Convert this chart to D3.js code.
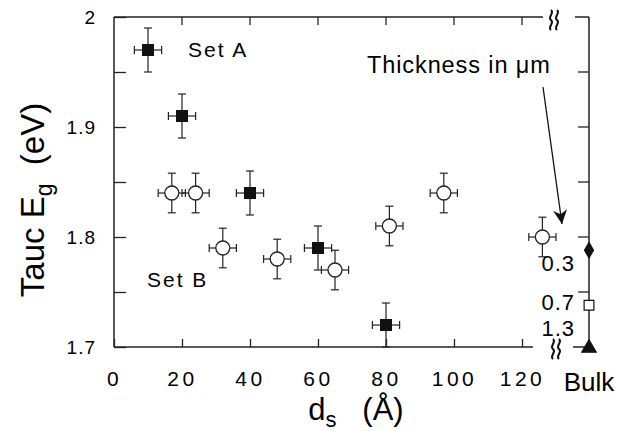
<!DOCTYPE html>
<html>
<head>
<meta charset="utf-8">
<script src="https://cdn.jsdelivr.net/npm/d3@7"></script>
<style>
  body { margin: 0; background: #fff; }
  text { font-family: "Liberation Sans", Arial, sans-serif; fill: #000; }
</style>
</head>
<body>
<svg id="chart" width="617" height="431"></svg>
<script>
// Set A (filled squares)
var setA_ds = [10, 20, 40, 60, 80];
var setA_eg = [1.97, 1.91, 1.84, 1.79, 1.72];
var setA_egErr = 0.02;
// Set B (open circles)
var setB_ds = [17, 24, 32, 48, 65, 81, 97, 126];
var setB_eg = [1.84, 1.84, 1.79, 1.78, 1.77, 1.81, 1.84, 1.80];
var setB_egErr = 0.018;
var dsErr = 4;
// bulk samples
var bulkThick = ["0.3", "0.7", "1.3"];
var bulkEg = [1.788, 1.738, 1.70];
var bulkShape = ["diamond", "square", "triangle"];
var bulkLabelEg = [1.776, 1.741, 1.717];

var xTicks = [0, 20, 40, 60, 80, 100, 120];
var yTicks = [1.7, 1.75, 1.8, 1.85, 1.9, 1.95, 2.0];

var svg = d3.select("#chart");
var x = d3.scaleLinear().domain([0, 120]).range([114, 522]);
var y = d3.scaleLinear().domain([1.7, 2.0]).range([347, 17]);
var xBulk = 589;

// left axis
var yAxis = d3.axisLeft(y).tickValues(yTicks).tickSizeInner(-12).tickSizeOuter(0).tickPadding(18)
  .tickFormat(function(d) {
    var r = Math.round(d * 100);
    if (r % 10 != 0) return "";
    return r == 200 ? "2" : d.toFixed(1);
  });
var gy = svg.append("g").attr("transform", "translate(114,0)").call(yAxis);
gy.select(".domain").remove();
gy.selectAll("text").style("font-size", "19px").style("letter-spacing", "1px")
  .style("font-family", "Liberation Sans, Arial, sans-serif");
gy.selectAll("line").attr("stroke", "#222").attr("stroke-width", 1.3);

// bottom axis
var xAxis = d3.axisBottom(x).tickValues(xTicks).tickSizeInner(-8).tickSizeOuter(0).tickPadding(24);
var gx = svg.append("g").attr("transform", "translate(0,347)").call(xAxis);
gx.select(".domain").remove();
gx.selectAll("text").style("font-size", "21px").style("letter-spacing", "3.5px")
  .style("font-family", "Liberation Sans, Arial, sans-serif");
gx.selectAll("line").attr("stroke", "#222").attr("stroke-width", 1.3);

// top ticks
svg.append("g").selectAll("line").data(xTicks.slice(1)).enter().append("line")
  .attr("x1", x).attr("x2", x).attr("y1", 17).attr("y2", 25)
  .attr("stroke", "#222").attr("stroke-width", 1.3);
// right ticks
svg.append("g").selectAll("line").data(yTicks.slice(1, -1)).enter().append("line")
  .attr("x1", xBulk).attr("x2", xBulk - 11).attr("y1", y).attr("y2", y)
  .attr("stroke", "#222").attr("stroke-width", 1.3);

// frame with breaks
var frame = svg.append("g").attr("stroke", "#222").attr("stroke-width", 1.5).attr("fill", "none");
frame.append("line").attr("x1", 114).attr("x2", 114).attr("y1", 17).attr("y2", 347);
frame.append("line").attr("x1", 114).attr("x2", 543).attr("y1", 17).attr("y2", 17);
frame.append("line").attr("x1", 575).attr("x2", xBulk).attr("y1", 17).attr("y2", 17);
frame.append("line").attr("x1", 114).attr("x2", 533).attr("y1", 347).attr("y2", 347);
frame.append("line").attr("x1", 573).attr("x2", xBulk).attr("y1", 347).attr("y2", 347);
frame.append("line").attr("x1", xBulk).attr("x2", xBulk).attr("y1", 17).attr("y2", 347);

function squiggle(cx, cy) {
  return "M" + (cx - 1) + "," + (cy - 10) + " c4,3 -4,7 0,10 c4,3 -4,7 0,10";
}
[[552, 20], [558, 20], [554, 349], [560, 349]].forEach(function(p) {
  svg.append("path").attr("d", squiggle(p[0], p[1])).attr("stroke", "#111")
    .attr("stroke-width", 2).attr("fill", "none");
});

// error bars
function errorBars(ds, eg, egErr) {
  var g = svg.append("g").attr("stroke", "#222").attr("stroke-width", 1.2);
  ds.forEach(function(d, i) {
    var cx = x(d), cy = y(eg[i]);
    var y0 = y(eg[i] - egErr), y1 = y(eg[i] + egErr);
    var x0 = x(d - dsErr), x1 = x(d + dsErr);
    g.append("line").attr("x1", cx).attr("x2", cx).attr("y1", y0).attr("y2", y1);
    g.append("line").attr("x1", cx - 4).attr("x2", cx + 4).attr("y1", y0).attr("y2", y0);
    g.append("line").attr("x1", cx - 4).attr("x2", cx + 4).attr("y1", y1).attr("y2", y1);
    g.append("line").attr("x1", x0).attr("x2", x1).attr("y1", cy).attr("y2", cy);
    g.append("line").attr("x1", x0).attr("x2", x0).attr("y1", cy - 4).attr("y2", cy + 4);
    g.append("line").attr("x1", x1).attr("x2", x1).attr("y1", cy - 4).attr("y2", cy + 4);
  });
}
errorBars(setA_ds, setA_eg, setA_egErr);
errorBars(setB_ds, setB_eg, setB_egErr);

svg.append("g").selectAll("rect").data(setA_ds).enter().append("rect")
  .attr("x", function(d) { return x(d) - 6; })
  .attr("y", function(d, i) { return y(setA_eg[i]) - 6; })
  .attr("width", 12).attr("height", 12).attr("fill", "#111");

svg.append("g").selectAll("circle").data(setB_ds).enter().append("circle")
  .attr("cx", x).attr("cy", function(d, i) { return y(setB_eg[i]); })
  .attr("r", 7).attr("fill", "#fff").attr("stroke", "#222").attr("stroke-width", 1.3);

// bulk markers
var sym = { diamond: d3.symbolDiamond, square: d3.symbolSquare, triangle: d3.symbolTriangle };
var symSize = { diamond: 70, square: 95, triangle: 90 };
svg.append("g").selectAll("path").data(bulkShape).enter().append("path")
  .attr("d", function(s) { return d3.symbol().type(sym[s]).size(symSize[s])(); })
  .attr("transform", function(s, i) { return "translate(" + xBulk + "," + (y(bulkEg[i]) + (s == "triangle" ? 1 : 0)) + ")"; })
  .attr("fill", function(s) { return s == "square" ? "#fff" : "#111"; })
  .attr("stroke", "#111").attr("stroke-width", 1.2);

svg.append("g").selectAll("text").data(bulkThick).enter().append("text")
  .attr("x", 575).attr("y", function(d, i) { return y(bulkLabelEg[i]); })
  .attr("dy", "0.36em").attr("text-anchor", "end").style("font-size", "22px")
  .style("letter-spacing", "1px").text(function(d) { return d; });

svg.append("text").attr("x", 589).attr("y", 382).attr("dy", "0.36em").attr("text-anchor", "middle")
  .style("font-size", "26px").text("Bulk");

// annotations
svg.append("text").attr("x", 188).attr("y", 57).style("font-size", "21px").style("letter-spacing", "2px").text("Set A");
svg.append("text").attr("x", 147).attr("y", 287).style("font-size", "21px").style("letter-spacing", "2px").text("Set B");
svg.append("text").attr("x", 367).attr("y", 73).style("font-size", "23.5px").style("letter-spacing", "0.9px")
  .text("Thickness in \u03bcm");

svg.append("defs").append("marker").attr("id", "arr").attr("viewBox", "0 0 10 10")
  .attr("refX", 10).attr("refY", 5).attr("markerWidth", 14).attr("markerHeight", 14)
  .attr("markerUnits", "userSpaceOnUse").attr("orient", "auto")
  .append("path").attr("d", "M0,0 L10,5 L0,10 L3,5 Z").attr("fill", "#111");
svg.append("line").attr("x1", 543).attr("y1", 87).attr("x2", 562).attr("y2", 224)
  .attr("stroke", "#111").attr("stroke-width", 1.3).attr("marker-end", "url(#arr)");

// axis titles
var yt = svg.append("text").attr("transform", "translate(44,200) rotate(-90)")
  .attr("text-anchor", "middle").style("font-size", "33px").style("white-space", "pre");
yt.append("tspan").text("Tauc E");
yt.append("tspan").attr("dy", 8).style("font-size", "23px").text("g");
yt.append("tspan").attr("dy", -8).text("  (eV)");

var xt = svg.append("text").attr("x", 356).attr("y", 420).attr("text-anchor", "middle")
  .style("font-size", "31px").style("white-space", "pre");
xt.append("tspan").text("d");
xt.append("tspan").attr("dy", 7).style("font-size", "22px").text("s");
xt.append("tspan").attr("dy", -7).text("   (\u00c5)");
</script>
</body>
</html>
